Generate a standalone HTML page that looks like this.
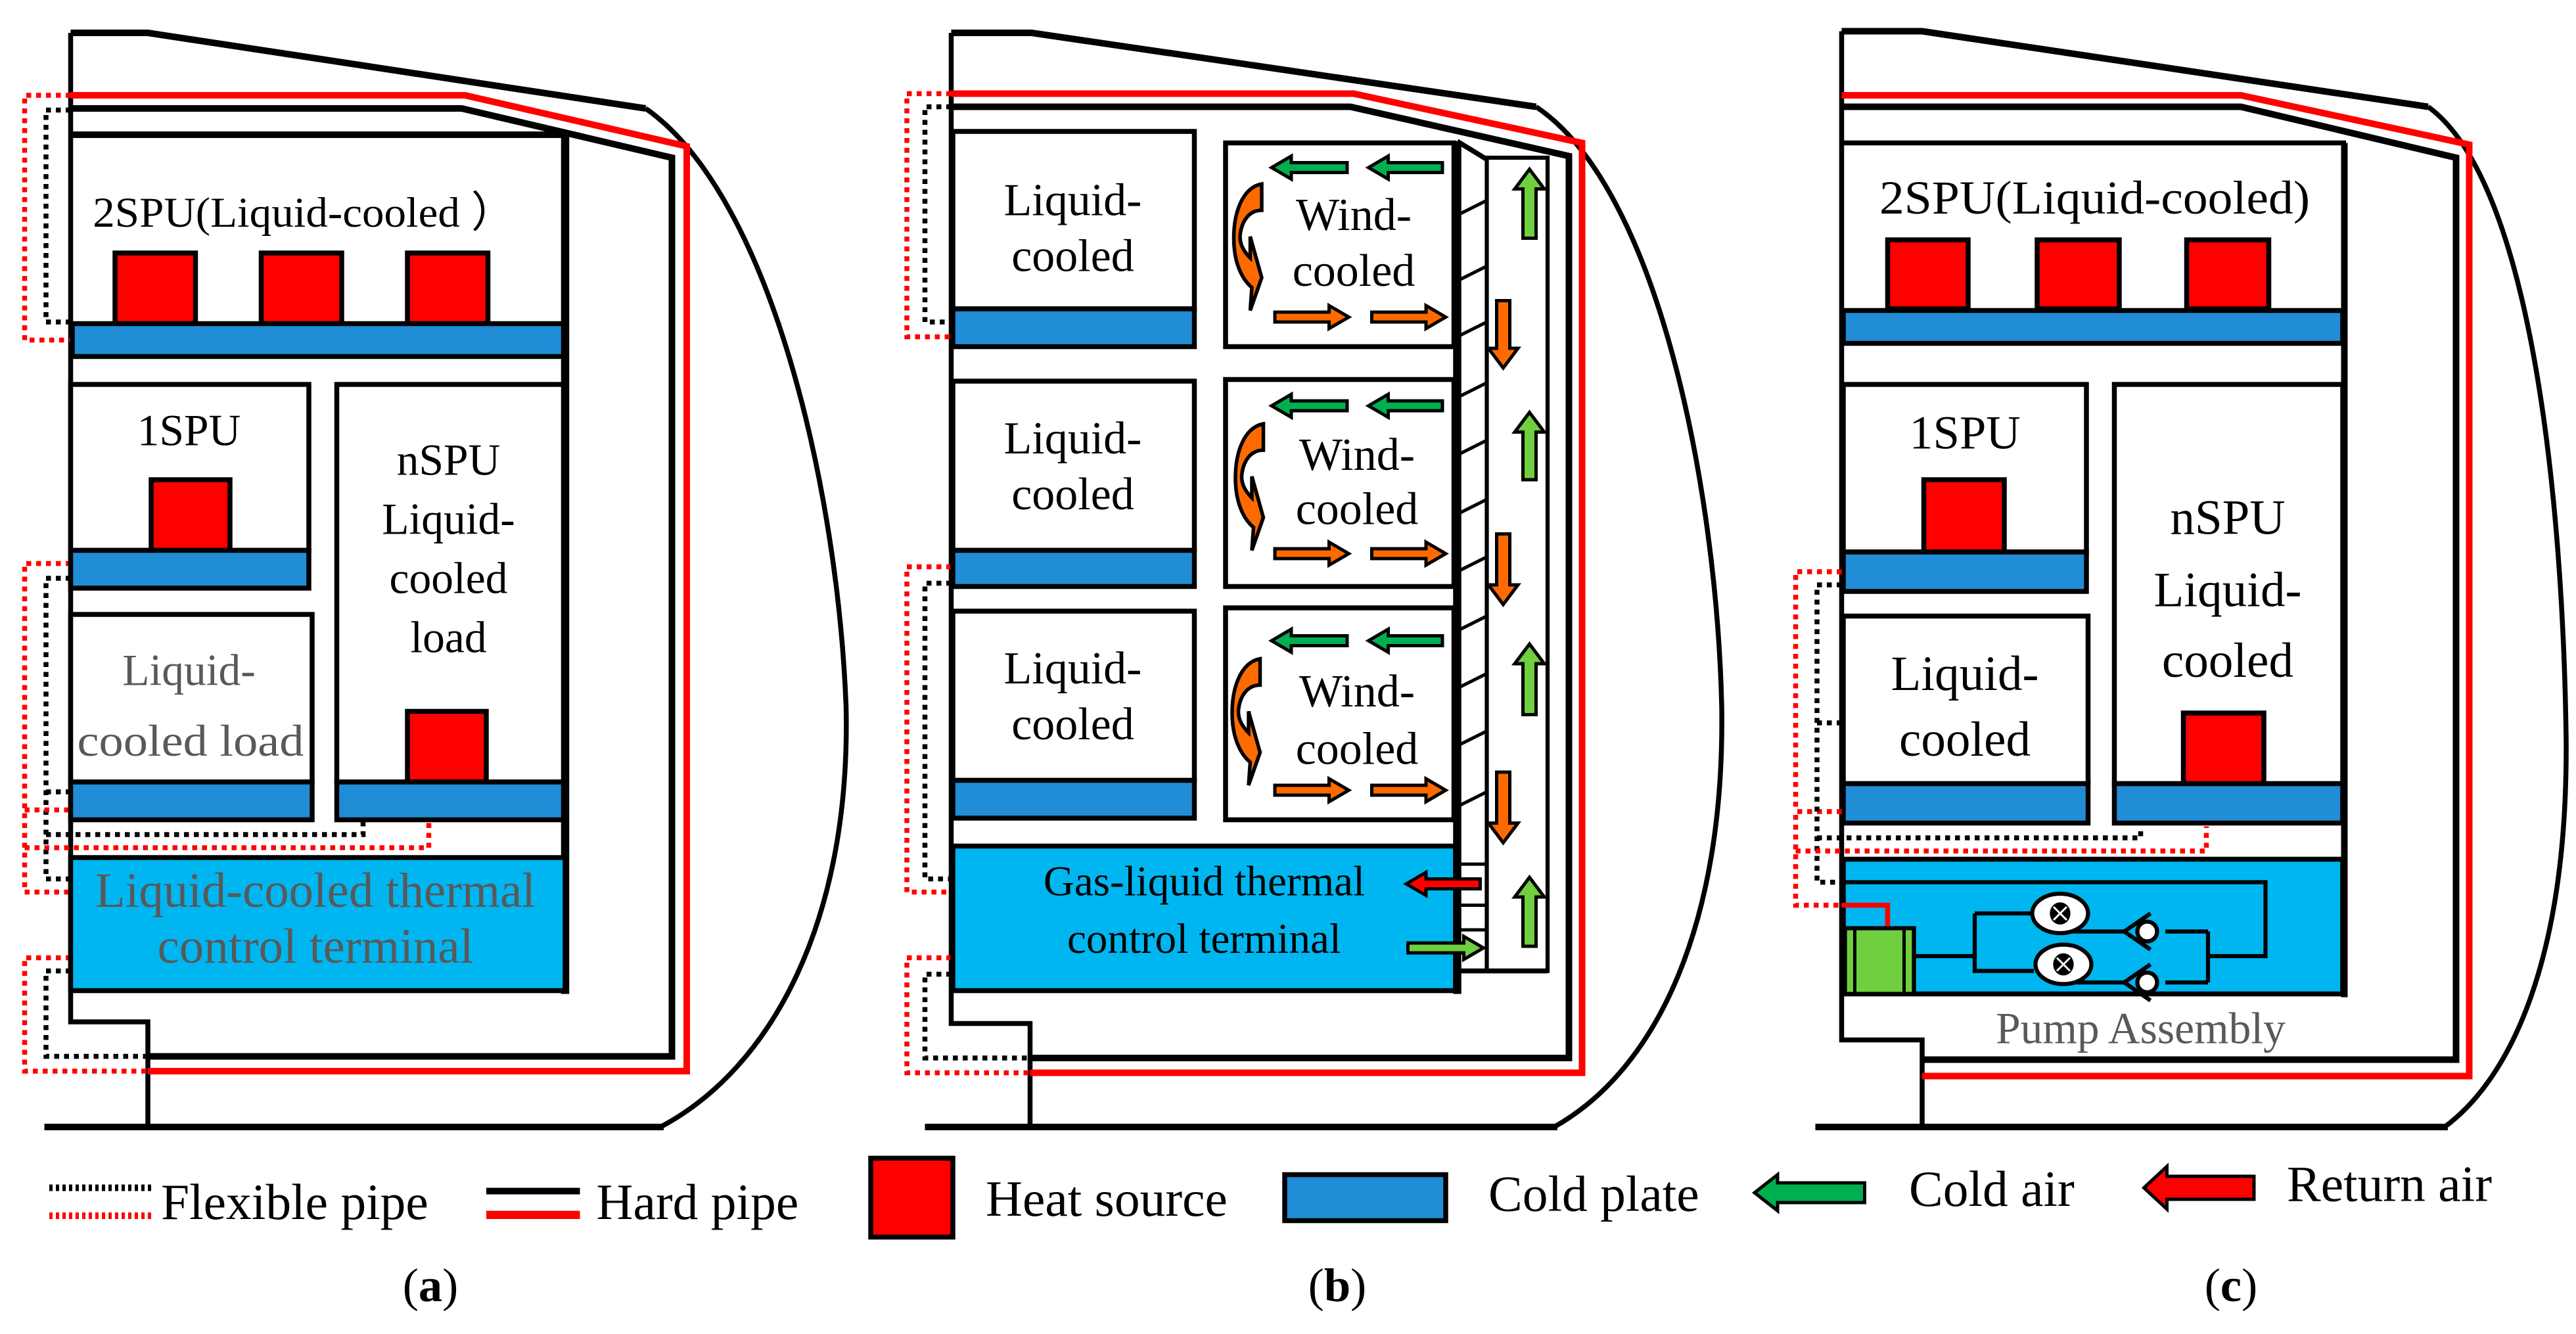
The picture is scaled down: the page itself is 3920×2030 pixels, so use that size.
<!DOCTYPE html>
<html><head><meta charset="utf-8"><style>
html,body{margin:0;padding:0;background:#fff}
svg{display:block}
text{font-family:"Liberation Serif","Times New Roman",serif}
</style></head><body>
<svg width="3920" height="2030" viewBox="0 0 1568 812" xmlns="http://www.w3.org/2000/svg" font-family="Liberation Serif, serif">
<defs>
<style>
.pl{fill:#208dd6;stroke:#000;stroke-width:3}
.hs{fill:#f00;stroke:#000;stroke-width:3}
.bx{fill:#fff;stroke:#000;stroke-width:3}
.fx{fill:none;stroke:#000;stroke-width:3;stroke-dasharray:3 3}
.fr{fill:none;stroke:#f00;stroke-width:3;stroke-dasharray:3 3}
.hb{fill:none;stroke:#000;stroke-width:4}
.hr{fill:none;stroke:#f00;stroke-width:4}
.ol{fill:none;stroke:#000;stroke-width:3}
</style>
</defs>

<!-- ================= PANEL A ================= -->
<path class="ol" d="M43,20 L43,622 L90,622 L90,686"/>
<path d="M43,20 L90,20 L393,66" fill="none" stroke="#000" stroke-width="4"/>
<path class="ol" d="M393,66 C470,120 510,300 515,430 C518,560 470,650 402,686"/>
<line x1="27" y1="686" x2="404" y2="686" stroke="#000" stroke-width="4"/>
<path class="hr" d="M43,58 L283,58 L418,89 L418,652 L90,652"/>
<path class="hb" d="M43,66 L281,66 L409,96 L409,643 L90,643"/>
<path class="fr" d="M43,58 L15,58 L15,207 L43,207"/>
<path class="fx" d="M43,67 L28,67 L28,196 L43,196"/>
<path class="fr" d="M43,343 L15,343 L15,543 L43,543"/>
<path class="fx" d="M43,352 L28,352 L28,535 L43,535"/>
<path class="fr" d="M15,493 L43,493"/>
<path class="fx" d="M28,482 L43,482"/>
<path class="fx" d="M28,508 L221,508 L221,500"/>
<path class="fr" d="M15,516 L261,516 L261,500"/>
<path class="fr" d="M43,583 L15,583 L15,652 L90,652"/>
<path class="fx" d="M43,591 L28,591 L28,643 L90,643"/>
<path d="M43,82 L344,82" stroke="#000" stroke-width="4"/>
<line x1="344" y1="82" x2="344" y2="605" stroke="#000" stroke-width="5"/>
<text x="185" y="138" font-size="26" textLength="257" lengthAdjust="spacingAndGlyphs" text-anchor="middle">2SPU(Liquid-cooled ）</text>
<rect class="hs" x="70" y="154" width="49" height="43"/>
<rect class="hs" x="159" y="154" width="49" height="43"/>
<rect class="hs" x="248" y="154" width="49" height="43"/>
<rect class="pl" x="44" y="197" width="299" height="20"/>
<rect class="bx" x="43" y="234" width="145" height="101"/>
<text x="115" y="271" font-size="27" text-anchor="middle">1SPU</text>
<rect class="hs" x="92" y="292" width="48" height="43"/>
<rect class="pl" x="43" y="335" width="145" height="23"/>
<rect class="bx" x="43" y="374" width="147" height="102"/>
<text x="115" y="417" font-size="27" fill="#595959" text-anchor="middle">Liquid-</text>
<text x="116" y="460" font-size="27" fill="#595959" text-anchor="middle" textLength="138" lengthAdjust="spacingAndGlyphs">cooled load</text>
<rect class="pl" x="43" y="476" width="147" height="23"/>
<rect class="bx" x="205" y="234" width="138" height="242"/>
<text x="273" y="289" font-size="27" text-anchor="middle">nSPU</text>
<text x="273" y="325" font-size="27" text-anchor="middle">Liquid-</text>
<text x="273" y="361" font-size="27" text-anchor="middle">cooled</text>
<text x="273" y="397" font-size="27" text-anchor="middle">load</text>
<rect class="hs" x="248" y="433" width="48" height="43"/>
<rect class="pl" x="205" y="476" width="138" height="23"/>
<rect x="43" y="522" width="301" height="81" fill="#00b6f0" stroke="#000" stroke-width="3"/>
<text x="192" y="552" font-size="30" fill="#595959" text-anchor="middle" textLength="268" lengthAdjust="spacingAndGlyphs">Liquid-cooled thermal</text>
<text x="192" y="586" font-size="30" fill="#595959" text-anchor="middle">control terminal</text>

<!-- ================= PANEL B ================= -->
<path class="ol" d="M579,20 L579,623 L627,623 L627,686"/>
<path d="M579,20 L628,20 L935,65" fill="none" stroke="#000" stroke-width="4"/>
<path class="ol" d="M935,65 C1010,115 1045,300 1048,430 C1050,560 1010,650 946,686"/>
<line x1="563" y1="686" x2="948" y2="686" stroke="#000" stroke-width="4"/>
<path class="hr" d="M579,57 L824,57 L963,87 L963,653 L627,653"/>
<path class="hb" d="M579,65 L822,65 L955,95 L955,644 L627,644"/>
<path class="fr" d="M579,57 L552,57 L552,205 L579,205"/>
<path class="fx" d="M579,65 L563,65 L563,196 L579,196"/>
<path class="fr" d="M579,345 L552,345 L552,543 L579,543"/>
<path class="fx" d="M579,355 L563,355 L563,535 L579,535"/>
<path class="fr" d="M579,583 L552,583 L552,653 L627,653"/>
<path class="fx" d="M579,593 L563,593 L563,644 L627,644"/>
<rect class="bx" x="580" y="80" width="147" height="108"/>
<rect class="pl" x="580" y="188" width="147" height="23"/>
<text x="653" y="131" font-size="28" text-anchor="middle">Liquid-</text>
<text x="653" y="165" font-size="28" text-anchor="middle">cooled</text>
<rect class="bx" x="580" y="232" width="147" height="103"/>
<rect class="pl" x="580" y="335" width="147" height="22"/>
<text x="653" y="276" font-size="28" text-anchor="middle">Liquid-</text>
<text x="653" y="310" font-size="28" text-anchor="middle">cooled</text>
<rect class="bx" x="580" y="372" width="147" height="103"/>
<rect class="pl" x="580" y="475" width="147" height="23"/>
<text x="653" y="416" font-size="28" text-anchor="middle">Liquid-</text>
<text x="653" y="450" font-size="28" text-anchor="middle">cooled</text>
<rect class="bx" x="746" y="87" width="139" height="124"/>
<rect class="bx" x="746" y="231" width="139" height="126"/>
<rect class="bx" x="746" y="370" width="139" height="129"/>
<text x="824" y="140" font-size="28" text-anchor="middle">Wind-</text>
<text x="824" y="174" font-size="28" text-anchor="middle">cooled</text>
<text x="826" y="286" font-size="28" text-anchor="middle">Wind-</text>
<text x="826" y="319" font-size="28" text-anchor="middle">cooled</text>
<text x="826" y="430" font-size="28" text-anchor="middle">Wind-</text>
<text x="826" y="465" font-size="28" text-anchor="middle">cooled</text>
<rect x="580" y="515" width="306" height="88" fill="#00b6f0" stroke="#000" stroke-width="3"/>
<text x="733" y="545" font-size="26" text-anchor="middle">Gas-liquid thermal</text>
<text x="733" y="580" font-size="26" text-anchor="middle">control terminal</text>
<line x1="887" y1="86" x2="887" y2="605" stroke="#000" stroke-width="5"/>
<path d="M887,86 L905,97" class="ol"/>
<rect x="905" y="96" width="37" height="495" fill="#fff" stroke="#000" stroke-width="2.5"/>
<path d="M886,591 L942,591" class="ol"/>
<g id="fins" stroke="#000" stroke-width="2"></g>
<g id="arrows"></g>

<!-- ================= PANEL C ================= -->
<path class="ol" d="M1121,19 L1121,633 L1170,633 L1170,688"/>
<path d="M1121,19 L1170,19 L1478,65" fill="none" stroke="#000" stroke-width="4"/>
<path class="ol" d="M1478,65 C1540,110 1560,300 1562,450 C1563,580 1530,655 1488,686"/>
<line x1="1105" y1="686" x2="1490" y2="686" stroke="#000" stroke-width="4"/>
<path class="hr" d="M1121,58 L1364,58 L1503,88 L1503,655 L1170,655"/>
<path class="hb" d="M1121,65 L1364,65 L1495,96 L1495,645 L1170,645"/>
<path d="M1121,87 L1428,87" stroke="#000" stroke-width="3"/>
<line x1="1427" y1="87" x2="1427" y2="607" stroke="#000" stroke-width="4"/>
<text x="1275" y="130" font-size="29" text-anchor="middle" textLength="262" lengthAdjust="spacingAndGlyphs">2SPU(Liquid-cooled)</text>
<rect class="hs" x="1149" y="146" width="49" height="42"/>
<rect class="hs" x="1240" y="146" width="50" height="42"/>
<rect class="hs" x="1331" y="146" width="50" height="42"/>
<rect class="pl" x="1122" y="189" width="304" height="20"/>
<rect class="bx" x="1122" y="234" width="148" height="102"/>
<text x="1196" y="273" font-size="29" text-anchor="middle">1SPU</text>
<rect class="hs" x="1171" y="292" width="49" height="44"/>
<rect class="pl" x="1122" y="336" width="148" height="24"/>
<rect class="bx" x="1122" y="375" width="149" height="102"/>
<text x="1196" y="420" font-size="30" text-anchor="middle">Liquid-</text>
<text x="1196" y="460" font-size="30" text-anchor="middle">cooled</text>
<rect class="pl" x="1122" y="477" width="149" height="24"/>
<rect class="bx" x="1287" y="234" width="139" height="243"/>
<text x="1356" y="325" font-size="30" text-anchor="middle">nSPU</text>
<text x="1356" y="369" font-size="30" text-anchor="middle">Liquid-</text>
<text x="1356" y="412" font-size="30" text-anchor="middle">cooled</text>
<rect class="hs" x="1329" y="434" width="49" height="43"/>
<rect class="pl" x="1287" y="477" width="139" height="24"/>
<path class="fr" d="M1121,494 L1093,494 L1093,551 L1121,551"/>
<path class="fx" d="M1121,440 L1106,440 L1106,537 L1121,537"/>
<path class="fr" d="M1093,440 L1093,494"/>
<path class="fx" d="M1106,510 L1303,510 L1303,503"/>
<path class="fr" d="M1093,518 L1343,518 L1343,503"/>
<path class="fr" d="M1121,348 L1093,348 L1093,440"/>
<path class="fx" d="M1121,356 L1106,356 L1106,440"/>
<rect x="1122" y="523" width="304" height="82" fill="#00b6f0" stroke="#000" stroke-width="3"/>
<path d="M1121,551 L1149,551 L1149,566" fill="none" stroke="#f00" stroke-width="3"/>
<rect x="1123" y="565" width="42" height="40" fill="#6fcf3f" stroke="#000" stroke-width="2.5"/>
<line x1="1129" y1="566" x2="1129" y2="604" stroke="#000" stroke-width="2"/>
<line x1="1159" y1="566" x2="1159" y2="604" stroke="#000" stroke-width="2"/>
<g fill="none" stroke="#000" stroke-width="2.5">
<path d="M1122,537 L1379,537 L1379,582 L1344,582"/>
<path d="M1165,582 L1202,582"/>
<path d="M1202,556 L1236,556 M1202,556 L1202,591 L1238,591"/>
<path d="M1344,567 L1344,598"/>
<path d="M1256,567 L1293,567 M1318,567 L1344,567"/>
<path d="M1258,598 L1293,598 M1318,598 L1344,598"/>
</g>
<g stroke="#000" stroke-width="2.5">
<ellipse cx="1254" cy="556" rx="17" ry="12" fill="#fff"/>
<ellipse cx="1256" cy="587" rx="17" ry="12" fill="#fff"/>
<ellipse cx="1254" cy="556" rx="5" ry="5.5" fill="#000"/>
<ellipse cx="1256" cy="587" rx="5" ry="5.5" fill="#000"/>
<path d="M1250,552 L1258,560 M1258,552 L1250,560 M1252,583 L1260,591 M1260,583 L1252,591" stroke="#fff" stroke-width="1.2"/>
<path d="M1309,556 L1293,567 L1309,578" fill="none"/>
<path d="M1309,587 L1293,598 L1309,609" fill="none"/>
<circle cx="1307" cy="567" r="6" fill="#fff"/>
<circle cx="1307" cy="598" r="6" fill="#fff"/>
</g>
<text x="1303" y="635" font-size="27" fill="#595959" text-anchor="middle">Pump Assembly</text>

<!-- ================= LEGEND ================= -->
<line x1="30" y1="723" x2="92" y2="723" stroke="#000" stroke-width="4" stroke-dasharray="2 2"/>
<line x1="30" y1="740" x2="92" y2="740" stroke="#f00" stroke-width="4" stroke-dasharray="2 2"/>
<text x="98" y="742" font-size="31">Flexible pipe</text>
<rect x="296" y="723" width="57" height="4" fill="#000"/>
<rect x="296" y="737" width="57" height="5" fill="#f00"/>
<text x="363" y="742" font-size="31">Hard pipe</text>
<rect class="hs" x="530" y="705" width="50" height="48"/>
<text x="600" y="740" font-size="31">Heat source</text>
<rect class="pl" x="782" y="715" width="98" height="28"/>
<text x="906" y="737" font-size="31">Cold plate</text>
<text x="1162" y="734" font-size="31">Cold air</text>
<text x="1392" y="731" font-size="31">Return air</text>
<text x="262" y="792" font-size="29" text-anchor="middle">(<tspan font-weight="bold">a</tspan>)</text>
<text x="814" y="792" font-size="29" text-anchor="middle">(<tspan font-weight="bold">b</tspan>)</text>
<text x="1358" y="792" font-size="29" text-anchor="middle">(<tspan font-weight="bold">c</tspan>)</text>

<g id="curl" fill="#ff6a00" stroke="#000" stroke-width="2.2">
<path d="M768,112 C757,114 751,128 751,145 C751,160 756,170 762,175 L761,189 L768,169 L761,144 L761,157 C757,153 754,148 755,142 C756,135 760,128 768,128 Z"/>
<path transform="translate(1,146)" d="M768,112 C757,114 751,128 751,145 C751,160 756,170 762,175 L761,189 L768,169 L761,144 L761,157 C757,153 754,148 755,142 C756,135 760,128 768,128 Z"/>
<path transform="translate(-1,289)" d="M768,112 C757,114 751,128 751,145 C751,160 756,170 762,175 L761,189 L768,169 L761,144 L761,157 C757,153 754,148 755,142 C756,135 760,128 768,128 Z"/>
</g>
</svg>
<script>
(function(){
var NS="http://www.w3.org/2000/svg";
var ag=document.getElementById("arrows"), fg=document.getElementById("fins");
function P(d,fill,sw){var p=document.createElementNS(NS,"path");p.setAttribute("d",d);p.setAttribute("fill",fill);p.setAttribute("stroke","#000");p.setAttribute("stroke-width",sw||2);ag.appendChild(p);}
function H(x1,x2,y,fill,s,h,L){s=s||3;h=h||7;L=L||12;var d=x2<x1?-1:1;var hx=x1+d*L;
P("M"+x1+","+y+" L"+hx+","+(y-h)+" L"+hx+","+(y-s)+" L"+x2+","+(y-s)+" L"+x2+","+(y+s)+" L"+hx+","+(y+s)+" L"+hx+","+(y+h)+" Z",fill);}
function V(x,y1,y2,fill,s,h,L){s=s||4;h=h||9;L=L||12;var d=y2<y1?-1:1;var hy=y1+d*L;
P("M"+x+","+y1+" L"+(x-h)+","+hy+" L"+(x-s)+","+hy+" L"+(x-s)+","+y2+" L"+(x+s)+","+y2+" L"+(x+s)+","+hy+" L"+(x+h)+","+hy+" Z",fill);}
var G="#00b050",O="#ff6a00",LG="#6fcf3f";
[[102,193],[247,337],[390,481]].forEach(function(r){
 H(774,820,r[0],G);H(833,878,r[0],G);
 H(821,776,r[1],O);H(880,835,r[1],O);
});
V(931,103,145,LG);V(931,251,292,LG);V(931,392,435,LG);V(931,534,576,LG);
V(915,224,183,O);V(915,368,325,O);V(915,513,470,O);
H(856,901,538,"#f00",3,7,12);
H(903,857,577,LG,3,7,12);
H(1068,1135,726,G,6,11,14);
H(1305,1372,723,"#f00",7,13,14);
[130,170,204,241,276,312,347,383,418,453,490].forEach(function(y){var l=document.createElementNS(NS,"line");l.setAttribute("x1",889);l.setAttribute("y1",y);l.setAttribute("x2",905);l.setAttribute("y2",y-8);fg.appendChild(l);});
[526,551,566].forEach(function(y){var l=document.createElementNS(NS,"line");l.setAttribute("x1",889);l.setAttribute("y1",y);l.setAttribute("x2",905);l.setAttribute("y2",y);fg.appendChild(l);});
})();
</script>
</body></html>
